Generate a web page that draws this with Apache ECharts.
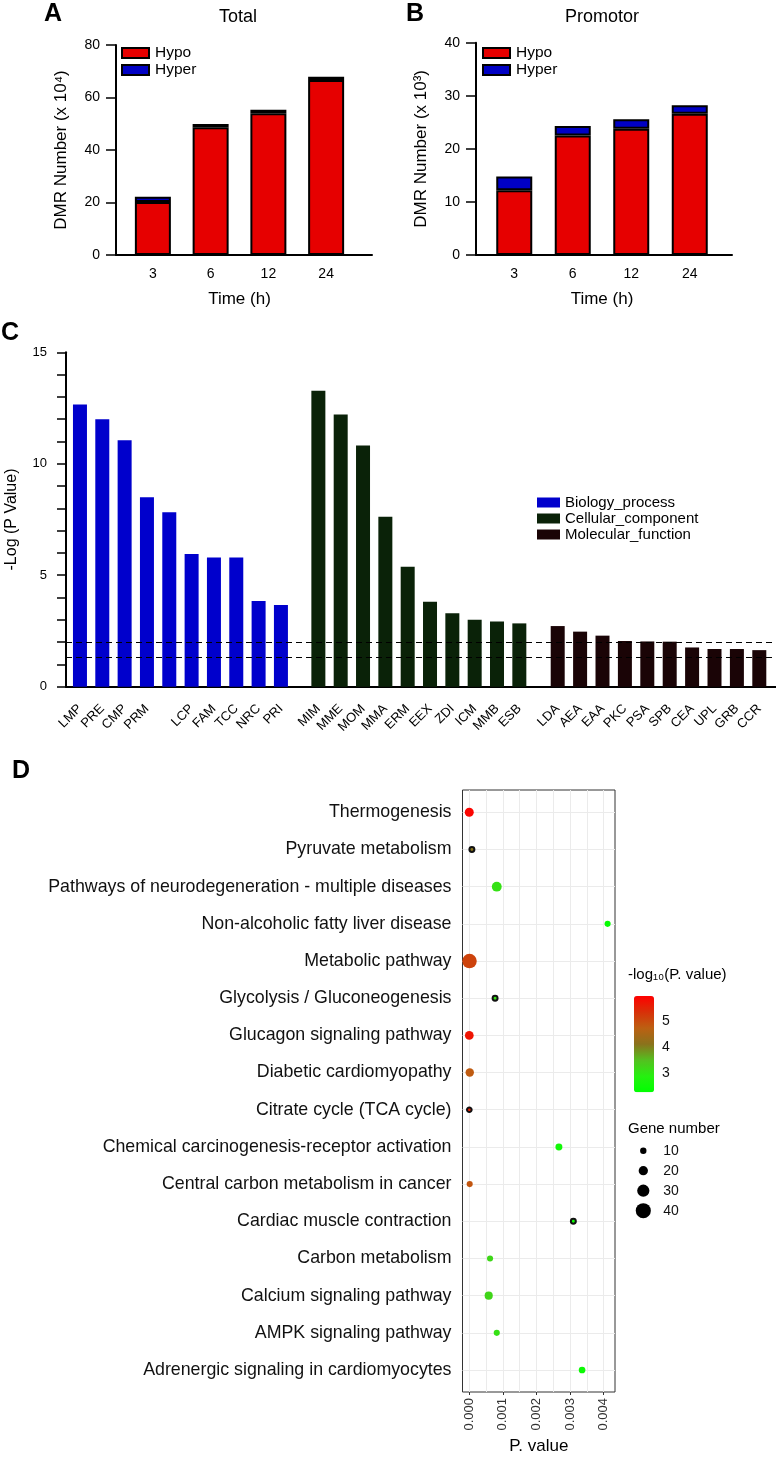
<!DOCTYPE html>
<html>
<head>
<meta charset="utf-8">
<script src="https://cdn.jsdelivr.net/npm/echarts@6/dist/echarts.min.js"></script>
<style>
  html, body { margin: 0; padding: 0; background: #fff; }
  #chart { width: 776px; height: 1458px; }
</style>
</head>
<body>
<div id="chart"></div>
<script>
// ---- A / B: DMR numbers per time point
var timePoints = ["3", "6", "12", "24"];
var totalHypo = [20.2, 48.7, 54.0, 66.7];
var totalHyper = [2.0, 1.2, 1.3, 1.2];
var promHypo = [12.2, 22.5, 23.8, 26.6];
var promHyper = [2.6, 1.8, 1.8, 1.6];

// ---- C: GO enrichment, -log(P)
var bpTerms = ["LMP", "PRE", "CMP", "PRM", "", "LCP", "FAM", "TCC", "NRC", "PRI"];
var bpValues = [12.66, 12.0, 11.06, 8.5, 7.83, 5.95, 5.8, 5.8, 3.84, 3.66];
var ccTerms = ["MIM", "MME", "MOM", "MMA", "ERM", "EEX", "ZDI", "ICM", "MMB", "ESB"];
var ccValues = [13.27, 12.21, 10.82, 7.62, 5.38, 3.81, 3.29, 3.0, 2.93, 2.84];
var mfTerms = ["LDA", "AEA", "EAA", "PKC", "PSA", "SPB", "CEA", "UPL", "GRB", "CCR"];
var mfValues = [2.72, 2.47, 2.29, 2.05, 2.03, 2.02, 1.76, 1.69, 1.69, 1.64];
var cutoffs = [2, 1.3];

// ---- D: KEGG bubble plot
var keggTerms = [
  "Thermogenesis",
  "Pyruvate metabolism",
  "Pathways of neurodegeneration - multiple diseases",
  "Non-alcoholic fatty liver disease",
  "Metabolic pathway",
  "Glycolysis / Gluconeogenesis",
  "Glucagon signaling pathway",
  "Diabetic cardiomyopathy",
  "Citrate cycle (TCA cycle)",
  "Chemical carcinogenesis-receptor activation",
  "Central carbon metabolism in cancer",
  "Cardiac muscle contraction",
  "Carbon metabolism",
  "Calcium signaling pathway",
  "AMPK signaling pathway",
  "Adrenergic signaling in cardiomyocytes"
];
var keggP = [0.0000013, 0.00008, 0.00082, 0.00412, 0.000008, 0.00077, 0.000002, 0.000016,
             0.000003, 0.00267, 0.000014, 0.0031, 0.00062, 0.00058, 0.00082, 0.00336];
var keggGenes = [19, 5, 22, 9, 38, 5, 18, 17, 4, 12, 9, 5, 9, 16, 9, 11];
var pTicks = [0, 0.001, 0.002, 0.003, 0.004];
var pGridLines = [0, 0.0005, 0.001, 0.0015, 0.002, 0.0025, 0.003, 0.0035, 0.004];
var pRange = [-0.0002, 0.00434];
var colorRange = [2.28, 5.95];
var colorTicks = [3, 4, 5];
var sizeLegend = ["10", "20", "30", "40"];

var FONT = "'Liberation Sans', Arial, sans-serif";
var myChart = echarts.init(document.getElementById("chart"));

function dotSize(g) {
  return 3.5 + 0.29 * g;
}

// bubble data: [p, term, genes, -log10 p]
var keggData = keggTerms.map(function (t, i) {
  var item = { value: [keggP[i], t, keggGenes[i], -Math.log10(keggP[i])] };
  if (keggGenes[i] < 6) {
    item.itemStyle = { borderColor: "#111", borderWidth: 2 };
  }
  return item;
});

var blackLine = { show: true, lineStyle: { color: "#000", width: 2 } };
var noAxis = { show: false };

function baseX(grid) {
  return {
    gridIndex: grid, type: "value", min: 0, max: 1,
    axisLine: blackLine, axisTick: noAxis, axisLabel: noAxis, splitLine: noAxis
  };
}
function hiddenY(grid, max) {
  return { gridIndex: grid, type: "value", min: 0, max: max, show: false, splitLine: noAxis };
}
function timeAxis(grid) {
  return {
    gridIndex: grid, type: "category", data: timePoints,
    axisLine: noAxis,
    axisTick: { alignWithLabel: true, length: 8, lineStyle: { color: "#000", width: 2 } },
    axisLabel: { fontSize: 14, color: "#000", margin: 12, fontFamily: FONT },
    name: "Time (h)", nameLocation: "middle", nameGap: 36, nameMoveOverlap: false,
    nameTextStyle: { fontSize: 17, color: "#000", fontFamily: FONT }
  };
}
function dmrAxis(grid, max, step, name) {
  return {
    gridIndex: grid, type: "value", min: 0, max: max, interval: step,
    axisLine: blackLine,
    axisTick: { show: true, length: 10, lineStyle: { color: "#000", width: 1.5 } },
    axisLabel: { fontSize: 14, color: "#000", margin: 16, fontFamily: FONT },
    splitLine: noAxis,
    name: name, nameLocation: "middle", nameGap: 46, nameMoveOverlap: false,
    nameTextStyle: { fontSize: 17, color: "#000", fontFamily: FONT }
  };
}
function goAxis(grid, terms) {
  return {
    gridIndex: grid, type: "category", data: terms,
    axisLine: noAxis,
    axisTick: { alignWithLabel: true, length: 10, lineStyle: { color: "#000", width: 1.5 } },
    axisLabel: { interval: 0, rotate: 45, fontSize: 13, color: "#000", margin: 20,
                 hideOverlap: false, fontFamily: FONT }
  };
}
function dmrBar(name, data, color, grid, stack) {
  return {
    name: name, type: "bar", stack: stack, data: data,
    xAxisIndex: grid, yAxisIndex: grid, barWidth: 36,
    itemStyle: { color: color, borderColor: "#000", borderWidth: 2 }
  };
}
function goBar(name, data, color, grid) {
  return {
    name: name, type: "bar", data: data, xAxisIndex: grid, yAxisIndex: grid,
    barWidth: 14, itemStyle: { color: color }
  };
}
function dmrLegend(left) {
  return {
    data: ["Hypo", "Hyper"], left: left, top: 45, orient: "vertical", padding: 0,
    itemWidth: 27, itemHeight: 10, itemGap: 1, icon: "rect", selectedMode: false,
    itemStyle: { borderColor: "#000", borderWidth: 2 },
    textStyle: { fontSize: 15.5, color: "#000", padding: [0, 0, 0, 1] }
  };
}
function label(text, x, y, font, align) {
  return {
    type: "text", x: x, y: y,
    style: { text: text, font: font, fill: "#000", textAlign: align || "left", textVerticalAlign: "middle" }
  };
}

var option = {
  animation: false,
  backgroundColor: "#fff",
  textStyle: { fontFamily: FONT },
  grid: [
    { left: 116, top: 45, width: 256, height: 210 },          // 0 A axes
    { left: 124, top: 45, width: 231, height: 210 },          // 1 A bars
    { left: 476, top: 42.7, width: 256, height: 212.3 },      // 2 B axes
    { left: 485, top: 42.7, width: 234, height: 212.3 },      // 3 B bars
    { left: 66, top: 352.3, width: 710, height: 334.4 },      // 4 C axes
    { left: 68.8, top: 352.3, width: 223.3, height: 334.4 },  // 5 C BP
    { left: 307.2, top: 352.3, width: 223.3, height: 334.4 }, // 6 C CC
    { left: 546.5, top: 352.3, width: 224, height: 334.4 },   // 7 C MF
    { left: 462.5, top: 790, width: 152.5, height: 602, show: true,
      borderColor: "#333", borderWidth: 1, backgroundColor: "transparent" }, // 8 D frame
    { left: 462.5, top: 812.3, width: 152.5, height: 557.7 }, // 9 D points
    { left: 634, top: 996, width: 20, height: 96.3 },         // 10 colour bar axis
    { left: 633.3, top: 1140.7, width: 20, height: 80 }       // 11 size legend
  ].map(function (g) { g.outerBoundsMode = "none"; g.containLabel = false; return g; }),
  xAxis: [
    baseX(0),
    timeAxis(1),
    baseX(2),
    timeAxis(3),
    baseX(4),
    goAxis(5, bpTerms),
    goAxis(6, ccTerms),
    goAxis(7, mfTerms),
    { // 8 D grid lines
      gridIndex: 8, type: "value", min: pRange[0], max: pRange[1], position: "bottom",
      axisLine: noAxis, axisLabel: noAxis,
      axisTick: { show: false, customValues: pGridLines },
      splitLine: { show: true, lineStyle: { color: "#ebebeb", width: 1 } }
    },
    { // 9 D ticks and labels
      gridIndex: 8, type: "value", min: pRange[0], max: pRange[1], position: "bottom", offset: 0,
      axisLine: noAxis, splitLine: noAxis,
      axisTick: { show: true, length: 3, customValues: pTicks, lineStyle: { color: "#333" } },
      axisLabel: { customValues: pTicks, rotate: 90, fontSize: 13, color: "#333", margin: 6,
                   formatter: function (v) { return v.toFixed(3); } },
      name: "P. value", nameLocation: "middle", nameGap: 46, nameMoveOverlap: false,
      nameTextStyle: { fontSize: 17, color: "#000" }
    },
    { gridIndex: 9, type: "value", min: pRange[0], max: pRange[1], show: false, splitLine: noAxis },
    { gridIndex: 10, type: "category", data: [""], show: false },
    { gridIndex: 11, type: "value", min: -1, max: 1, show: false, splitLine: noAxis }
  ],
  yAxis: [
    dmrAxis(0, 80, 20, "DMR Number (x 10\u2074)"),
    hiddenY(1, 80),
    dmrAxis(2, 40, 10, "DMR Number (x 10\u00b3)"),
    hiddenY(3, 40),
    {
      gridIndex: 4, type: "value", min: 0, max: 15, interval: 1,
      axisLine: blackLine,
      axisTick: { show: true, length: 9, lineStyle: { color: "#000", width: 1.5 } },
      axisLabel: { fontSize: 13, color: "#000", margin: 19,
                   formatter: function (v) { return v % 5 === 0 ? String(v) : ""; } },
      splitLine: noAxis,
      name: "-Log (P Value)", nameLocation: "middle", nameGap: 46, nameMoveOverlap: false,
      nameTextStyle: { fontSize: 16, color: "#000" }
    },
    hiddenY(5, 15),
    hiddenY(6, 15),
    hiddenY(7, 15),
    { gridIndex: 8, type: "value", min: 0, max: 1, show: false, splitLine: noAxis },
    {
      gridIndex: 9, type: "category", data: keggTerms, inverse: true, boundaryGap: false,
      axisLine: { show: false, onZero: false }, axisTick: noAxis,
      axisLabel: { fontSize: 17.8, color: "#111", margin: 11 },
      splitLine: { show: true, lineStyle: { color: "#ebebeb", width: 1 } }
    },
    {
      gridIndex: 10, type: "value", min: colorRange[0], max: colorRange[1], position: "right",
      axisLine: { show: false, onZero: false }, splitLine: noAxis,
      axisTick: { show: true, inside: true, length: 4, customValues: colorTicks,
                  lineStyle: { color: "#fff", width: 1 } },
      axisLabel: { customValues: colorTicks, fontSize: 14, color: "#111", margin: 8 }
    },
    {
      gridIndex: 11, type: "category", data: sizeLegend, inverse: true, position: "right",
      axisLine: { show: false, onZero: false }, axisTick: noAxis, splitLine: noAxis,
      axisLabel: { fontSize: 14, color: "#111", margin: 10 }
    }
  ],
  legend: [
    dmrLegend(121),
    dmrLegend(482),
    { data: ["Biology_process", "Cellular_component", "Molecular_function"],
      left: 537, top: 495, orient: "vertical", padding: 0,
      itemWidth: 23, itemHeight: 10, itemGap: 1, icon: "rect", selectedMode: false,
      itemStyle: { borderWidth: 0 },
      textStyle: { fontSize: 15, color: "#000" } }
  ],
  visualMap: [{
    type: "continuous", seriesIndex: 8, dimension: 3,
    min: colorRange[0], max: colorRange[1],
    inRange: { color: ["#00ff00", "#26f010", "#54c020", "#8a721c", "#bc6012", "#d83008", "#ff0000"] },
    left: 634, top: 996, itemWidth: 20, itemHeight: 96.3, padding: 0,
    calculable: false, hoverLink: false, text: null, showLabel: false
  }],
  graphic: [
    label("A", 44, 14, "bold 25px " + FONT),
    label("B", 406, 14, "bold 25px " + FONT),
    label("C", 1, 333, "bold 25px " + FONT),
    label("D", 12, 771, "bold 25px " + FONT),
    label("Total", 238, 17, "18px " + FONT, "center"),
    label("Promotor", 602, 17, "18px " + FONT, "center"),
    label("-log\u2081\u2080(P. value)", 628, 975, "15px " + FONT),
    label("Gene number", 628, 1129, "15px " + FONT)
  ],
  series: [
    dmrBar("Hypo", totalHypo, "#e60000", 1, "a"),
    dmrBar("Hyper", totalHyper, "#0000c4", 1, "a"),
    dmrBar("Hypo", promHypo, "#e60000", 3, "b"),
    dmrBar("Hyper", promHyper, "#0000c4", 3, "b"),
    {
      type: "line", xAxisIndex: 4, yAxisIndex: 4, data: [], silent: true,
      markLine: {
        silent: true, symbol: "none", label: { show: false },
        lineStyle: { color: "#000", type: [6, 4], width: 1.2 },
        data: cutoffs.map(function (c) { return { yAxis: c }; })
      }
    },
    goBar("Biology_process", bpValues, "#0000cc", 5),
    goBar("Cellular_component", ccValues, "#0a2208", 6),
    goBar("Molecular_function", mfValues, "#1a0406", 7),
    {
      type: "scatter", xAxisIndex: 10, yAxisIndex: 9, data: keggData,
      itemStyle: { opacity: 1 },
      symbolSize: function (v) { return dotSize(v[2]); }
    },
    {
      type: "scatter", xAxisIndex: 12, yAxisIndex: 11, silent: true,
      data: sizeLegend.map(function (s) { return [0, s]; }),
      symbolSize: function (v) { return dotSize(Number(v[1])); },
      itemStyle: { color: "#000", opacity: 1 }
    }
  ]
};

myChart.setOption(option);
window.addEventListener("resize", function () {
  myChart.resize();
});
</script>
</body>
</html>
